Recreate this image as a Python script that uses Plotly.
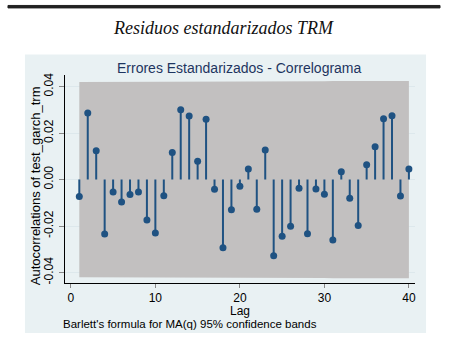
import plotly.graph_objects as go

lags = list(range(1, 41))
acf = [-0.0073, 0.0286, 0.0124, -0.0234, -0.0053, -0.0096, -0.0064, -0.0053, -0.0174, -0.0230,
       -0.0069, 0.0116, 0.0300, 0.0273, 0.0079, 0.0259, -0.0041, -0.0293, -0.0130, -0.0029,
       0.0046, -0.0127, 0.0127, -0.0327, -0.0244, -0.0201, -0.0037, -0.0233, -0.0040, -0.0063,
       -0.0260, 0.0034, -0.0080, -0.0197, 0.0064, 0.0141, 0.0261, 0.0274, -0.0070, 0.0046]
band_upper = [0.0420, 0.0420, 0.0420, 0.0421, 0.0421, 0.0421, 0.0421, 0.0421, 0.0421, 0.0421,
              0.0421, 0.0422, 0.0422, 0.0422, 0.0422, 0.0422, 0.0422, 0.0422, 0.0422, 0.0422,
              0.0423, 0.0423, 0.0423, 0.0423, 0.0423, 0.0423, 0.0423, 0.0423, 0.0423, 0.0423,
              0.0424, 0.0424, 0.0424, 0.0424, 0.0424, 0.0424, 0.0424, 0.0424, 0.0424, 0.0424]
band_lower = [-v for v in band_upper]
yticks = [-0.04, -0.02, 0.00, 0.02, 0.04]
ytick_text = ["-0.04", "-0.02", "0.00", "0.02", "0.04"]
xticks = [0, 10, 20, 30, 40]

STEM = "#1f5282"
GRAY = "#c2c0c0"
PANEL = "#e9f1f3"

fig = go.Figure()
fig.add_trace(go.Scatter(x=lags, y=band_upper, mode="lines", line=dict(width=0),
                         hoverinfo="skip", showlegend=False))
fig.add_trace(go.Scatter(x=lags, y=band_lower, mode="lines", line=dict(width=0),
                         fill="tonexty", fillcolor=GRAY, hoverinfo="skip", showlegend=False))

sx, sy = [], []
for l, v in zip(lags, acf):
    sx += [l, l, None]
    sy += [0, v, None]
fig.add_trace(go.Scatter(x=sx, y=sy, mode="lines", line=dict(color=STEM, width=2),
                         showlegend=False))
fig.add_trace(go.Scatter(x=lags, y=acf, mode="markers",
                         marker=dict(color=STEM, size=7), showlegend=False))

W, H = 450.0, 340.0


def px(x):
    return x / W


def py(y):
    return 1 - y / H


fig.update_layout(
    width=450, height=340,
    margin=dict(l=0, r=0, t=0, b=0, pad=0),
    paper_bgcolor="white", plot_bgcolor="white",
    showlegend=False,
    font=dict(family="Liberation Sans, Arial", size=12, color="black"),
    shapes=[
        dict(type="rect", xref="paper", yref="paper", layer="below",
             x0=px(25), x1=px(427), y0=py(335), y1=py(53),
             fillcolor=PANEL, line=dict(width=0)),
        dict(type="rect", xref="paper", yref="paper", layer="above",
             x0=px(8), x1=px(441), y0=py(6), y1=py(3.5),
             fillcolor="#222222", line=dict(color="#222222", width=1)),
    ],
    annotations=[
        dict(text="<i>Residuos estandarizados TRM</i>", xref="paper", yref="paper",
             x=px(224), y=py(26), xanchor="center", yanchor="middle", showarrow=False,
             font=dict(family="Liberation Serif", size=18, color="#111111")),
        dict(text="Errores Estandarizados - Correlograma", xref="paper", yref="paper",
             x=px(240), y=py(67), xanchor="center", yanchor="middle", showarrow=False,
             font=dict(family="Liberation Sans, Arial", size=14, color="#1e3560")),
        dict(text="Lag", xref="paper", yref="paper",
             x=px(241), y=py(312.5), xanchor="center", yanchor="middle", showarrow=False,
             font=dict(size=12)),
        dict(text="Barlett's formula for MA(q) 95% confidence bands", xref="paper", yref="paper",
             x=px(61), y=py(326), xanchor="left", yanchor="middle", showarrow=False,
             font=dict(size=11.5)),
        dict(text="Autocorrelations of test_garch_trm", xref="paper", yref="paper",
             x=px(35), y=py(185.5), xanchor="center", yanchor="middle", showarrow=False,
             textangle=-90, font=dict(size=13)),
    ],
)
fig.update_xaxes(domain=[px(65), px(416)], range=[-0.71, 40.73], tickvals=xticks,
                 showgrid=False, zeroline=False,
                 showline=True, linecolor="black", linewidth=1, ticks="outside",
                 ticklen=4, tickcolor="#888888", tickfont=dict(size=12))
fig.update_yaxes(domain=[py(284), py(74)], range=[-0.0443, 0.0449], tickvals=yticks,
                 ticktext=ytick_text,
                 tickangle=-90, showgrid=True, gridcolor="#dde8ec", gridwidth=1,
                 zeroline=False, showline=True, linecolor="black", linewidth=1,
                 ticks="outside", ticklen=5, tickcolor="#888888", tickfont=dict(size=12),
                 ticklabelstandoff=1)

fig.write_html("out.html")
